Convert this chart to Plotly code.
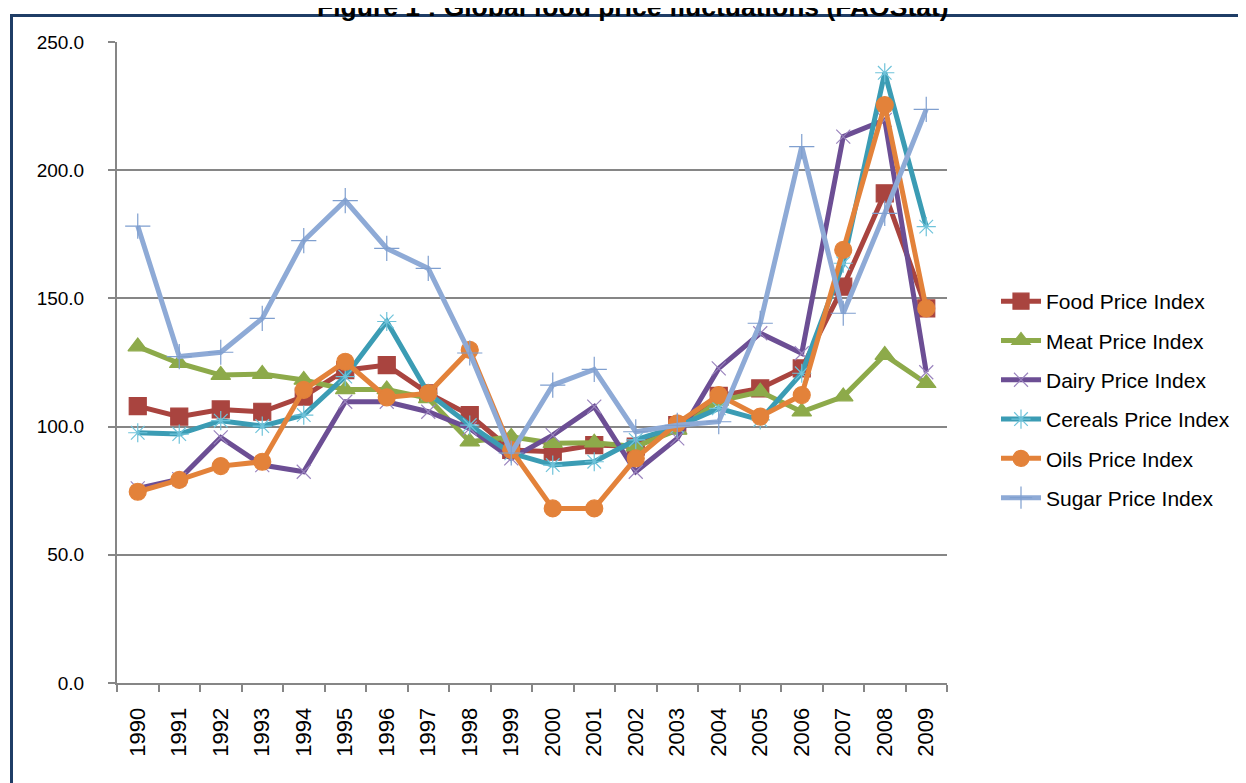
import plotly.graph_objects as go

years = [str(y) for y in range(1990, 2010)]

food = [108.0, 103.9, 106.7, 105.8, 111.7, 122.0, 124.0, 113.0, 104.5, 90.9,
        90.2, 92.8, 92.2, 100.6, 112.0, 114.9, 122.7, 154.6, 191.0, 146.1]
meat = [131.2, 124.7, 120.1, 120.5, 118.2, 114.5, 114.5, 111.0, 94.1, 96.0,
        93.5, 93.7, 92.2, 98.7, 110.0, 113.6, 105.8, 111.7, 127.9, 116.9]
dairy = [75.9, 79.5, 95.8, 85.0, 82.4, 109.7, 109.7, 105.8, 99.3, 87.6,
         96.7, 107.8, 82.4, 95.4, 122.7, 136.4, 128.6, 213.1, 219.6, 121.2]
cereals = [97.6, 97.1, 102.3, 100.2, 104.5, 119.5, 141.0, 113.0, 100.6, 89.6,
           85.0, 86.3, 94.8, 100.0, 107.1, 102.6, 120.8, 163.7, 238.0, 178.0]
oils = [74.6, 79.2, 84.6, 86.3, 114.3, 125.3, 111.4, 113.0, 129.9, 90.9,
        68.1, 68.1, 87.6, 101.3, 112.3, 103.9, 112.3, 168.9, 225.4, 146.1]
sugar = [178.2, 127.3, 129.0, 142.2, 172.5, 188.1, 169.5, 161.7, 128.7, 89.7,
         116.2, 122.3, 98.0, 100.5, 101.9, 140.3, 209.2, 144.2, 183.2, 223.7]

series_names = ["Food Price Index", "Meat Price Index", "Dairy Price Index",
                "Cereals Price Index", "Oils Price Index", "Sugar Price Index"]
series_values = [food, meat, dairy, cereals, oils, sugar]
colors = ["#A9443F", "#8DAA4A", "#6C4E94", "#3B9CB4", "#E3823A", "#8EAAD6"]
symbols = ["square", "triangle-up", "x-thin-open", "asterisk-open", "circle", "cross-thin-open"]
msizes = [17, 17, 14, 16, 17, 18]
mcolors = ["#A9443F", "#8DAA4A", "#9A84BE", "#6FC3DA", "#E3823A", "#7F9FCF"]

tick_vals = [0, 50, 100, 150, 200, 250]
tick_text = ["0.0", "50.0", "100.0", "150.0", "200.0", "250.0"]

# page offset from default HTML body margin
OFF = 8
W, H = 1246, 783
L, R, T, B = 117 - OFF, 947 - OFF, 42 - OFF, 683 - OFF
pw, ph = R - L, B - T

fig = go.Figure()
for i, (name, vals) in enumerate(zip(series_names, series_values)):
    fig.add_trace(go.Scatter(
        x=years, y=vals, name=name, mode="lines+markers",
        line=dict(color=colors[i], width=5),
        marker=dict(symbol=symbols[i], size=msizes[i], color=mcolors[i],
                    line=dict(color=mcolors[i], width=1.2)),
        legendgroup=name,
    ))

def px_x(p):
    return (p - OFF - L) / pw

def px_y(p):
    return (B - (p - OFF)) / ph

fig.update_layout(
    width=W, height=H,
    margin=dict(l=L, r=W - R, t=T, b=H - B, pad=0),
    paper_bgcolor="white", plot_bgcolor="white",
    font=dict(family="Liberation Sans, Arial, sans-serif", color="#000000"),
    showlegend=True,
    legend=dict(
        x=px_x(996), y=px_y(281), xanchor="left", yanchor="top",
        font=dict(size=21, color="#000000"),
        tracegroupgap=9, traceorder="grouped",
        bgcolor="rgba(0,0,0,0)", itemwidth=40,
    ),
    xaxis=dict(
        type="category", range=[-0.5, 19.5],
        showline=True, linecolor="#868686", linewidth=2,
        ticks="outside", ticklen=7, tickcolor="#868686", tickwidth=1.5,
        tickson="boundaries", showgrid=False, tickangle=-90,
        tickfont=dict(size=22, color="#000000"), ticklabelstandoff=14,
    ),
    yaxis=dict(
        range=[0, 250], tickvals=tick_vals, ticktext=tick_text,
        showline=True, linecolor="#868686", linewidth=2,
        ticks="outside", ticklen=7, tickcolor="#868686", tickwidth=1.5,
        showgrid=True, gridcolor="#868686", gridwidth=1.5, zeroline=False,
        tickfont=dict(size=19, color="#000000"), ticklabelstandoff=20,
    ),
    shapes=[dict(
        type="rect", xref="paper", yref="paper",
        x0=px_x(11.5), x1=px_x(1450), y0=px_y(950), y1=px_y(15.5),
        line=dict(color="#1F3D66", width=3), fillcolor="rgba(0,0,0,0)", layer="below",
    )],
    annotations=[dict(
        text="<b>Figure 1 : Global food price fluctuations (FAOStat)</b>",
        xref="paper", yref="paper", x=px_x(633), y=px_y(7),
        xanchor="center", yanchor="middle", showarrow=False,
        font=dict(size=26.5, color="#000000"),
    )],
)

fig.write_html("out.html")
